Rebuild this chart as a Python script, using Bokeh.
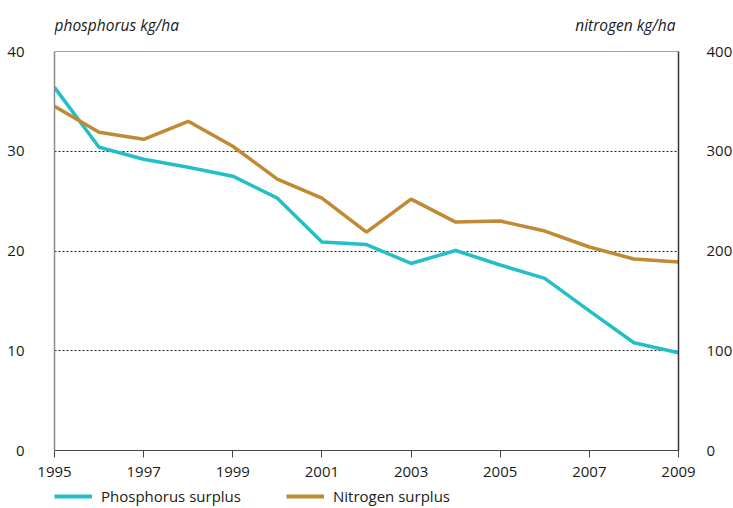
from bokeh.plotting import figure
from bokeh.layouts import column
from bokeh.models import Range1d, LinearAxis, FixedTicker, Legend, LegendItem, Span
from bokeh.core.properties import value
from bokeh.embed import file_html
from bokeh.resources import INLINE

years = [1995, 1996, 1997, 1998, 1999, 2000, 2001, 2002, 2003, 2004, 2005, 2006, 2007, 2008, 2009]
phosphorus = [36.4, 30.4, 29.2, 28.4, 27.5, 25.3, 20.9, 20.65, 18.75, 20.05, 18.6, 17.25, 14.0, 10.8, 9.8]
nitrogen = [345, 319, 312, 330, 305, 272, 253, 219, 252, 229, 230, 220, 204, 192, 189]
x_ticks = [1995, 1997, 1999, 2001, 2003, 2005, 2007, 2009]
left_ticks = [0, 10, 20, 30, 40]
right_ticks = [0, 100, 200, 300, 400]
grid_ticks = [10, 20, 30]
left_title = "phosphorus kg/ha"
right_title = "nitrogen kg/ha"
series_names = ["Phosphorus surplus", "Nitrogen surplus"]

FONT = "Open Sans"
TEAL = "#22BFC7"
GOLD = "#C08A33"
TXT = "#1a1a1a"
W = 733
XR = Range1d(years[0], years[-1])

# ---------- header with the two axis titles ----------
head = figure(width=W, height=41, x_range=XR, y_range=Range1d(0, 41),
              x_axis_location=None, y_axis_location=None,
              output_backend="svg", toolbar_location=None)
head.min_border_left = 54
head.min_border_right = 55
head.min_border_top = 0
head.min_border_bottom = 0
head.grid.visible = False
head.outline_line_color = None
head.text(x=[years[0]], y=[17], text=[left_title], x_offset=0,
          text_font=value(FONT), text_font_style="italic", text_font_size="15.5px",
          text_color=TXT, text_align="left", text_baseline="alphabetic")
head.text(x=[years[-1]], y=[17], text=[right_title], x_offset=-1,
          text_font=value(FONT), text_font_style="italic", text_font_size="15.5px",
          text_color=TXT, text_align="right", text_baseline="alphabetic")

# ---------- main chart ----------
p = figure(frame_width=624, frame_height=399, x_range=XR, y_range=Range1d(0, 40),
           output_backend="svg", toolbar_location=None)
p.extra_y_ranges = {"n": Range1d(0, 400)}
p.min_border_left = 54
p.min_border_right = 55
p.min_border_top = 10
p.min_border_bottom = 36
p.outline_line_color = None

p.xgrid.visible = False
p.ygrid.ticker = FixedTicker(ticks=grid_ticks)
p.ygrid.grid_line_color = "#222222"
p.ygrid.grid_line_dash = "2 2"
p.ygrid.grid_line_width = 1

xa = p.xaxis[0]
xa.ticker = FixedTicker(ticks=x_ticks)
xa.major_tick_out = 7
xa.major_tick_in = 0
xa.minor_tick_line_color = None
xa.axis_line_color = "#444444"
xa.major_tick_line_color = "#444444"
xa.major_label_standoff = 9
xa.major_label_text_font = FONT
xa.major_label_text_font_size = "15px"
xa.major_label_text_color = TXT

ya = p.yaxis[0]
ya.ticker = FixedTicker(ticks=left_ticks)
ya.major_tick_line_color = None
ya.minor_tick_line_color = None
ya.axis_line_color = "#8a8a8a"
ya.axis_line_width = 1.5
ya.major_label_standoff = 24
ya.major_label_text_font = FONT
ya.major_label_text_font_size = "15px"
ya.major_label_text_color = TXT

ra = LinearAxis(y_range_name="n", ticker=FixedTicker(ticks=right_ticks))
ra.major_tick_line_color = None
ra.minor_tick_line_color = None
ra.axis_line_color = "#333333"
ra.axis_line_width = 1.5
ra.major_label_standoff = 22
ra.major_label_text_font = FONT
ra.major_label_text_font_size = "15px"
ra.major_label_text_color = TXT
p.add_layout(ra, "right")

p.add_layout(Span(location=40, dimension="width", line_color="#444444", line_width=1.2))

p.line(years, phosphorus, line_color=TEAL, line_width=3.5)
p.line(years, nitrogen, y_range_name="n", line_color=GOLD, line_width=3.5)

# ---------- footer with the legend ----------
foot = figure(width=W, height=22, x_range=XR, y_range=Range1d(1000, 1001),
              x_axis_location=None, y_axis_location=None,
              output_backend="svg", toolbar_location=None)
foot.min_border_left = 54
foot.min_border_right = 55
foot.min_border_top = 0
foot.min_border_bottom = 0
foot.grid.visible = False
foot.outline_line_color = None
f_p = foot.line(years, phosphorus, line_color=TEAL, line_width=4)
f_n = foot.line(years, nitrogen, line_color=GOLD, line_width=4)

legend = Legend(items=[LegendItem(label=series_names[0], renderers=[f_p]),
                       LegendItem(label=series_names[1], renderers=[f_n])],
                orientation="horizontal", location=(0, 2))
legend.label_text_font = FONT
legend.label_text_font_size = "15px"
legend.label_text_color = TXT
legend.glyph_width = 38
legend.glyph_height = 18
legend.label_height = 18
legend.label_standoff = 9
legend.spacing = 45
legend.padding = 0
legend.margin = 0
legend.border_line_color = None
legend.background_fill_alpha = 0
foot.add_layout(legend)

layout = column(head, p, foot, spacing=0)
open("out.html", "w").write(file_html(layout, INLINE))
